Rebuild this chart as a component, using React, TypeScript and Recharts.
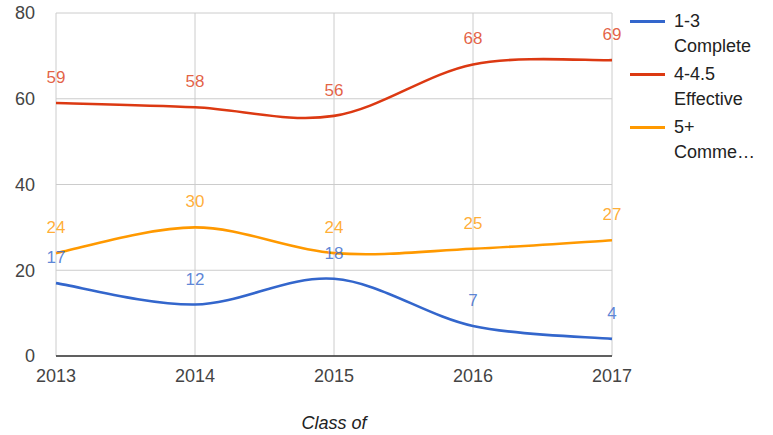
import { LineChart, Line, XAxis, YAxis, CartesianGrid, LabelList } from 'recharts';

const years = ['2013', '2014', '2015', '2016', '2017'];
const complete = [17, 12, 18, 7, 4];
const effective = [59, 58, 56, 68, 69];
const commended = [24, 30, 24, 25, 27];
const yTicks = [0, 20, 40, 60, 80];

const series = [
  { key: 'complete', values: complete, color: '#3366cc', label: ['1-3', 'Complete'] },
  { key: 'effective', values: effective, color: '#dc3912', label: ['4-4.5', 'Effective'] },
  { key: 'commended', values: commended, color: '#ff9900', label: ['5+', 'Comme…'] },
];

const data = years.map((year, i) => ({
  year,
  complete: complete[i],
  effective: effective[i],
  commended: commended[i],
}));

const FONT = '"Liberation Sans", Arial, sans-serif';

// catmull-rom style spline, close to the google "function" curve
const smoothCurve = (context: any) => {
  let pts: number[][] = [];
  return {
    areaStart() {},
    areaEnd() {},
    lineStart() {
      pts = [];
    },
    point(x: number, y: number) {
      pts.push([+x, +y]);
    },
    lineEnd() {
      const n = pts.length;
      if (!n) return;
      context.moveTo(pts[0][0], pts[0][1]);
      for (let i = 0; i < n - 1; i++) {
        const p0 = pts[i - 1] || pts[i];
        const p1 = pts[i];
        const p2 = pts[i + 1];
        const p3 = pts[i + 2] || pts[i + 1];
        context.bezierCurveTo(
          p1[0] + (p2[0] - p0[0]) / 6,
          p1[1] + (p2[1] - p0[1]) / 6,
          p2[0] - (p3[0] - p1[0]) / 6,
          p2[1] - (p3[1] - p1[1]) / 6,
          p2[0],
          p2[1]
        );
      }
    },
  };
};

export default function App() {
  return (
    <div style={{ position: 'absolute', left: 0, top: 0, width: 773, height: 435, background: '#fff', fontFamily: FONT }}>
      <LineChart width={773} height={435} data={data} margin={{ top: 13, right: 161, bottom: 0, left: 0 }}>
        <CartesianGrid stroke="#cccccc" />
        <XAxis
          dataKey="year"
          height={79}
          tickSize={0}
          tickMargin={13}
          tickLine={false}
          stroke="#333"
          strokeWidth={1.5}
          tick={{ fill: '#444', fontSize: 18, fontFamily: FONT }}
          label={{
            value: 'Class of',
            position: 'insideBottom',
            offset: 6,
            style: { fill: '#222', fontSize: 18, fontStyle: 'italic', fontFamily: FONT },
          }}
        />
        <YAxis
          domain={[0, 80]}
          ticks={yTicks}
          width={56}
          tickSize={0}
          tickMargin={21}
          tickLine={false}
          axisLine={false}
          tick={{ fill: '#444', fontSize: 18, fontFamily: FONT }}
        />
        {series.map(s => (
          <Line
            key={s.key}
            dataKey={s.key}
            type={smoothCurve as any}
            stroke={s.color}
            strokeWidth={2.6}
            dot={false}
            activeDot={false}
            isAnimationActive={false}
          >
            <LabelList
              dataKey={s.key}
              position="top"
              offset={20}
              fill={s.color}
              fillOpacity={0.8}
              fontSize={17}
              fontFamily={FONT}
            />
          </Line>
        ))}
      </LineChart>

      {/* legend */}
      {series.map((s, i) => (
        <div key={s.key} style={{ position: 'absolute', left: 630, top: 9 + i * 53, fontSize: 18, lineHeight: '24.5px', color: '#222' }}>
          <div style={{ position: 'absolute', left: 0, top: 11, width: 35, height: 3, background: s.color }} />
          <div style={{ marginLeft: 44, whiteSpace: 'nowrap' }}>
            {s.label[0]}
            <br />
            {s.label[1]}
          </div>
        </div>
      ))}
    </div>
  );
}
